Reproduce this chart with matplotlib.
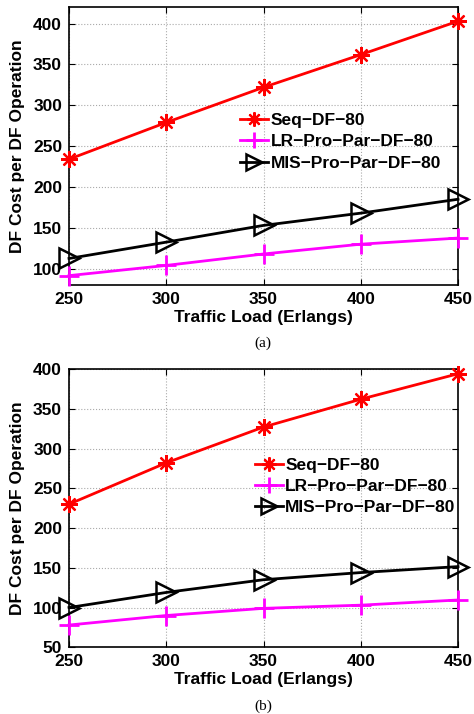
import matplotlib
matplotlib.use('Agg')
import matplotlib.pyplot as plt

plt.rcParams['font.family'] = 'Liberation Sans'
plt.rcParams['font.weight'] = 'bold'

load = [250, 300, 350, 400, 450]

# panel (a)
seq_a = [234, 279, 322, 362, 403]
lr_a = [91.5, 104, 118, 130, 137.5]
mis_a = [112.5, 132.5, 153, 168, 185]

# panel (b)
seq_b = [230, 282, 327, 362, 394]
lr_b = [78, 90, 99, 103, 109.5]
mis_b = [100, 119, 135, 144, 151.5]

labels = ['Seq\u2212DF\u221280', 'LR\u2212Pro\u2212Par\u2212DF\u221280', 'MIS\u2212Pro\u2212Par\u2212DF\u221280']


def panel(ax, seq, lr, mis, ylim, yticks, leg_anchor):
    ax.plot(load, seq, 'r-', marker=(8, 2, 0), ms=12, mew=1.6, lw=2, label=labels[0], clip_on=False, zorder=3)
    ax.plot(load, lr, '-', color='#ff00ff', marker='+', ms=14, mew=2, lw=2, label=labels[1], clip_on=False, zorder=3)
    ax.plot(load, mis, 'k-', marker='>', ms=14, mfc='none', mew=1.8, lw=2, label=labels[2], clip_on=False, zorder=3)
    ax.set_xlim(250, 450)
    ax.set_ylim(*ylim)
    ax.set_xticks(load)
    ax.set_yticks(yticks)
    ax.grid(True, linestyle=':', color='#aaaaaa', lw=0.8)
    ax.tick_params(direction='in', top=True, right=True, labelsize=12.5, length=4, pad=5)
    for s in ax.spines.values():
        s.set_linewidth(1.2)
    ax.set_xlabel('Traffic Load (Erlangs)', fontsize=12.5, fontweight='bold', labelpad=2)
    ax.set_ylabel('DF Cost per DF Operation', fontsize=12.5, fontweight='bold', labelpad=6)
    ax.legend(loc='upper left', bbox_to_anchor=leg_anchor, frameon=False, fontsize=12.5,
              handlelength=1.6, handletextpad=0.15, labelspacing=0.36, numpoints=1,
              borderaxespad=0, borderpad=0, markerscale=0.85)


fig = plt.figure(figsize=(4.74, 7.14), dpi=100)
ax1 = fig.add_axes([0.1456, 0.6008, 0.8207, 0.389])
ax2 = fig.add_axes([0.1456, 0.0934, 0.8207, 0.3898])

panel(ax1, seq_a, lr_a, mis_a, (80, 420), [100, 150, 200, 250, 300, 350, 400], (0.44, 0.62))
panel(ax2, seq_b, lr_b, mis_b, (50, 400), [50, 100, 150, 200, 250, 300, 350, 400], (0.478, 0.682))

fig.text(263 / 474, 1 - 343 / 714, '(a)', ha='center', va='center', fontsize=11,
         fontweight='normal', family='Liberation Serif')
fig.text(263 / 474, 1 - 706 / 714, '(b)', ha='center', va='center', fontsize=11,
         fontweight='normal', family='Liberation Serif')

fig.savefig('out.png', dpi=100)
